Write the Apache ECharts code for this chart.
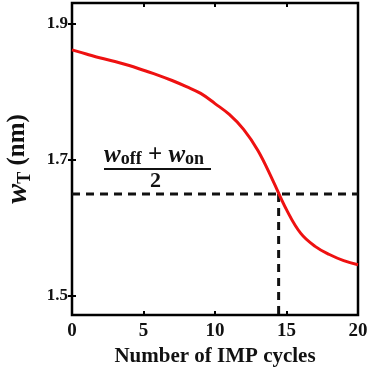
<!DOCTYPE html>
<html>
<head>
<meta charset="utf-8">
<script src="https://cdn.jsdelivr.net/npm/echarts@6/dist/echarts.min.js"></script>
<style>
  html, body { margin: 0; padding: 0; background: #fff; }
  #chart { width: 367px; height: 369px; }
</style>
</head>
<body>
<div id="chart"></div>
<script>
// IMP cycles and tip width (nm)
var cycles = [0, 1, 2, 3, 4, 5, 6, 7, 8, 9, 10, 11, 12, 13, 14, 15, 16, 17, 18, 19, 20];
var widthT = [1.862, 1.856, 1.850, 1.845, 1.839, 1.832, 1.825, 1.817, 1.808, 1.798, 1.783,
              1.767, 1.745, 1.714, 1.672, 1.627, 1.592, 1.573, 1.561, 1.552, 1.546];
var midLevel = 1.65;     // (w_off + w_on)/2
var midCycle = 14.45;    // where the curve crosses it
var xTicks = [0, 5, 10, 15, 20];
var yTicks = [1.5, 1.7, 1.9];

var serif = '"Liberation Serif", "Times New Roman", serif';
var chart = echarts.init(document.getElementById('chart'));

var tickStyle = { show: true, inside: true, length: 4, lineStyle: { color: '#000', width: 2 } };

var option = {
  animation: false,
  grid: {
    left: 72, right: 9, top: 3, bottom: 54, outerBoundsMode: 'none',
    show: true, borderColor: '#000', borderWidth: 2.5, backgroundColor: '#fff'
  },
  xAxis: [{
    type: 'value', min: 0, max: 20, interval: 5,
    axisLine: { show: false },
    axisTick: tickStyle,
    splitLine: { show: false },
    axisLabel: { margin: 7, color: '#111', fontFamily: serif, fontWeight: 'bold', fontSize: 19 },
    name: 'Number of IMP cycles', nameLocation: 'middle', nameGap: 28,
    nameTextStyle: { color: '#111', fontFamily: serif, fontWeight: 'bold', fontSize: 21 }
  }, {
    type: 'value', min: 0, max: 20, interval: 5, position: 'top',
    axisLine: { show: false }, axisTick: tickStyle, axisLabel: { show: false }, splitLine: { show: false }
  }],
  yAxis: [{
    type: 'value', min: 1.472, max: 1.931,
    axisLine: { show: false },
    axisTick: Object.assign({ customValues: yTicks }, tickStyle),
    splitLine: { show: false },
    axisLabel: {
      customValues: yTicks, margin: 4, color: '#111', fontFamily: serif, fontWeight: 'bold', fontSize: 17,
      formatter: function (v) { return v.toFixed(1); }
    },
    name: '{w|w}{t|T}{n| (nm)}', nameLocation: 'middle', nameGap: 38, nameRotate: 90,
    nameTextStyle: {
      rich: {
        w: { fontFamily: serif, fontStyle: 'italic', fontWeight: 'bold', fontSize: 30, color: '#111' },
        t: { fontFamily: serif, fontWeight: 'bold', fontSize: 18, color: '#111', verticalAlign: 'bottom', padding: [14, 0, 0, 0] },
        n: { fontFamily: serif, fontWeight: 'bold', fontSize: 25, color: '#111' }
      }
    }
  }, {
    type: 'value', min: 1.472, max: 1.931, position: 'right',
    axisLine: { show: false },
    axisTick: Object.assign({ customValues: yTicks }, tickStyle),
    axisLabel: { show: false }, splitLine: { show: false }
  }],
  series: [{
    type: 'line', smooth: 0.4, symbol: 'none',
    data: cycles.map(function (c, i) { return [c, widthT[i]]; }),
    lineStyle: { color: '#ee1111', width: 3 }, z: 3
  }, {
    type: 'line', symbol: 'none',
    data: [[0, midLevel], [20, midLevel]],
    lineStyle: { color: '#111', width: 3, type: [8, 6] }, z: 2
  }, {
    type: 'line', symbol: 'none',
    data: [[midCycle, midLevel], [midCycle, 1.472]],
    lineStyle: { color: '#111', width: 3, type: [8, 6] }, z: 2
  }],
  graphic: [{
    type: 'text', left: 104, top: 143,
    style: {
      text: '{w|w}{s|off}{p| + }{w|w}{s|on}',
      rich: {
        w: { fontFamily: serif, fontStyle: 'italic', fontWeight: 'bold', fontSize: 25, fill: '#111' },
        s: { fontFamily: serif, fontWeight: 'bold', fontSize: 18, fill: '#111', padding: [8, 0, 0, 0] },
        p: { fontFamily: serif, fontWeight: 'bold', fontSize: 25, fill: '#111' }
      }
    }
  }, {
    type: 'line', shape: { x1: 104, y1: 169, x2: 211, y2: 169 },
    style: { stroke: '#111', lineWidth: 2 }
  }, {
    type: 'text', left: 150, top: 170,
    style: { text: '2', fontFamily: serif, fontWeight: 'bold', fontSize: 22, fill: '#111' }
  }]
};

chart.setOption(option);
</script>
</body>
</html>
